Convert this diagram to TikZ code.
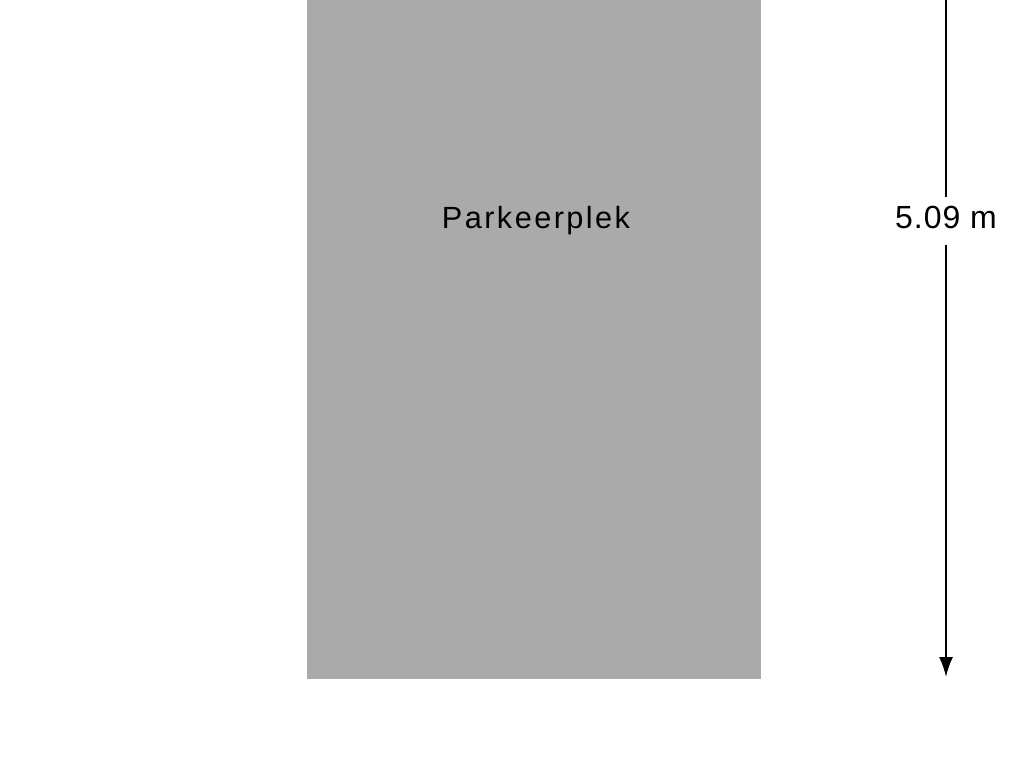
\documentclass[tikz,border=0pt]{standalone}
\usepackage{fontspec}
\setmainfont{Liberation Sans}
\usetikzlibrary{arrows.meta}

\definecolor{plekgrey}{HTML}{AAAAAA}

\begin{document}
\begin{tikzpicture}[x=0.75pt,y=-0.75pt]
\useasboundingbox (0,0) rectangle (1024,768);
\fill[plekgrey] (307,0) rectangle (761,679);
\node (plek) [anchor=base,inner sep=0pt] at (536,228)
  {\fontsize{23}{27}\selectfont\addfontfeature{LetterSpace=8}Parkeerplek};
\coordinate (top) at (946,0);
\coordinate (bottom) at (946,677);
\draw[line width=1.5pt,-{Latex[length=15pt,width=10.5pt]}] (top) -- (bottom);
\node (len) [anchor=base,fill=white,inner xsep=1pt,inner ysep=0pt,
  text height=23pt,text depth=12.5pt] at (946,228)
  {\fontsize{24}{28}\selectfont\addfontfeature{LetterSpace=3}5.09 m};
\end{tikzpicture}
\end{document}
